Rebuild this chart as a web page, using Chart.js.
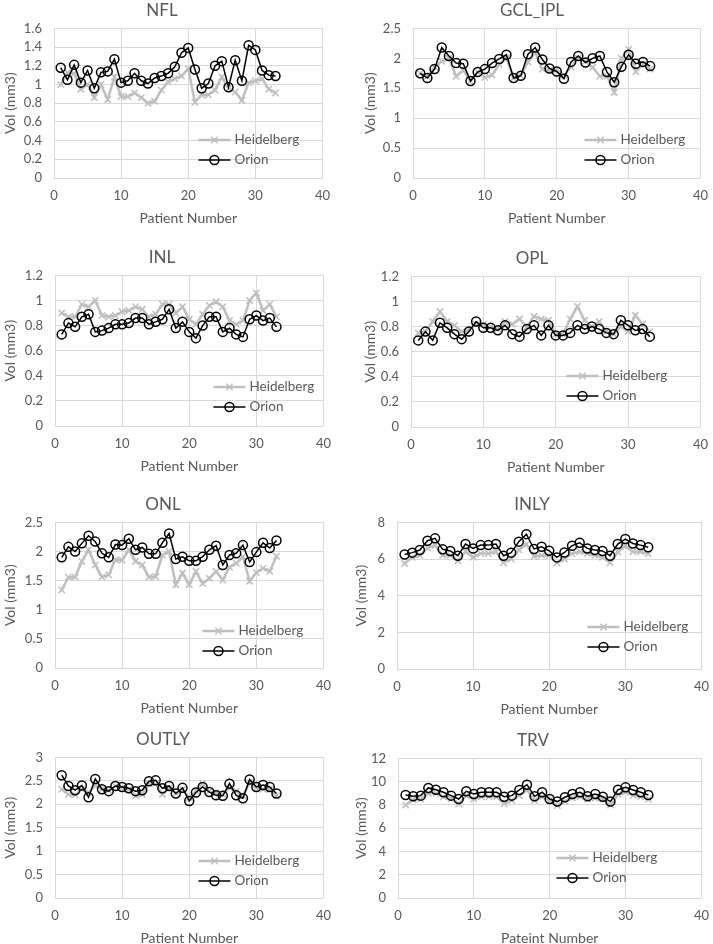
<!DOCTYPE html>
<html>
<head>
<meta charset="utf-8">
<script src="https://cdn.jsdelivr.net/npm/chart.js"></script>
<style>
  body { margin: 0; background: #fff; width: 713px; height: 944px; position: relative; overflow: hidden; }
  .panel { position: absolute; }
</style>
</head>
<body>
<script>
// patient numbers on the x axis
const patients = [1, 2, 3, 4, 5, 6, 7, 8, 9, 10, 11, 12, 13, 14, 15, 16, 17, 18, 19, 20, 21, 22, 23, 24, 25, 26, 27, 28, 29, 30, 31, 32, 33];

const nflHeid  = [1.00, 1.13, 1.12, 0.95, 1.00, 0.86, 1.00, 0.84, 1.08, 0.87, 0.87, 0.91, 0.86, 0.80, 0.82, 0.94, 1.03, 1.06, 1.09, 1.17, 0.81, 0.89, 0.89, 0.94, 1.08, 0.96, 0.92, 0.83, 1.02, 1.04, 1.06, 0.95, 0.91];
const nflOrion = [1.18, 1.05, 1.21, 1.02, 1.15, 0.96, 1.13, 1.14, 1.27, 1.02, 1.04, 1.12, 1.04, 1.01, 1.07, 1.09, 1.12, 1.19, 1.34, 1.39, 1.16, 0.96, 1.01, 1.20, 1.25, 0.97, 1.26, 1.04, 1.42, 1.37, 1.15, 1.10, 1.09];

const gclHeid  = [1.75, 1.70, 1.85, 1.95, 2.00, 1.70, 1.80, 1.62, 1.77, 1.68, 1.72, 1.90, 2.00, 1.67, 1.71, 1.94, 2.10, 1.82, 1.80, 1.80, 1.72, 1.85, 2.00, 1.95, 1.85, 1.70, 1.70, 1.43, 2.00, 2.15, 1.78, 1.90, 1.82];
const gclOrion = [1.75, 1.67, 1.82, 2.18, 2.04, 1.92, 1.91, 1.62, 1.77, 1.82, 1.92, 1.99, 2.06, 1.67, 1.71, 2.07, 2.18, 1.98, 1.83, 1.78, 1.66, 1.94, 2.04, 1.93, 2.00, 2.04, 1.77, 1.60, 1.86, 2.06, 1.91, 1.94, 1.87];

const inlHeid  = [0.90, 0.87, 0.87, 0.97, 0.95, 1.00, 0.88, 0.87, 0.88, 0.91, 0.92, 0.95, 0.93, 0.87, 0.89, 0.97, 0.97, 0.90, 0.95, 0.85, 0.81, 0.89, 0.96, 0.99, 0.95, 0.84, 0.81, 0.84, 1.00, 1.06, 0.92, 0.97, 0.87];
const inlOrion = [0.73, 0.82, 0.79, 0.87, 0.89, 0.75, 0.76, 0.78, 0.81, 0.81, 0.82, 0.86, 0.86, 0.81, 0.83, 0.85, 0.93, 0.78, 0.83, 0.75, 0.70, 0.80, 0.87, 0.87, 0.75, 0.78, 0.73, 0.71, 0.85, 0.88, 0.84, 0.86, 0.79];

const oplHeid  = [0.75, 0.76, 0.84, 0.92, 0.84, 0.81, 0.76, 0.78, 0.82, 0.82, 0.80, 0.78, 0.84, 0.82, 0.86, 0.80, 0.88, 0.86, 0.85, 0.74, 0.74, 0.86, 0.96, 0.85, 0.80, 0.84, 0.76, 0.74, 0.80, 0.76, 0.89, 0.82, 0.76];
const oplOrion = [0.69, 0.76, 0.69, 0.83, 0.79, 0.74, 0.70, 0.76, 0.84, 0.79, 0.79, 0.77, 0.81, 0.74, 0.72, 0.78, 0.81, 0.73, 0.81, 0.73, 0.73, 0.75, 0.81, 0.78, 0.80, 0.78, 0.75, 0.74, 0.85, 0.81, 0.77, 0.78, 0.72];

const onlHeid  = [1.34, 1.56, 1.56, 1.83, 2.03, 1.77, 1.56, 1.60, 1.86, 1.85, 2.03, 1.83, 1.77, 1.56, 1.57, 1.94, 2.00, 1.43, 1.63, 1.43, 1.66, 1.45, 1.54, 1.66, 1.51, 1.73, 1.80, 1.91, 1.49, 1.64, 1.71, 1.66, 1.92];
const onlOrion = [1.90, 2.08, 2.00, 2.14, 2.27, 2.17, 1.97, 1.90, 2.12, 2.11, 2.22, 2.03, 2.07, 1.96, 1.96, 2.15, 2.31, 1.87, 1.91, 1.84, 1.84, 1.91, 2.03, 2.10, 1.77, 1.94, 1.97, 2.11, 1.82, 1.99, 2.15, 2.06, 2.19];

const inlyHeid  = [5.76, 6.10, 6.20, 6.60, 6.75, 6.20, 6.20, 5.90, 6.40, 6.10, 6.30, 6.30, 6.40, 5.80, 6.00, 6.50, 6.80, 6.15, 6.20, 6.20, 5.80, 6.00, 6.30, 6.40, 6.30, 6.20, 6.10, 5.80, 6.40, 6.70, 6.40, 6.40, 6.30];
const inlyOrion = [6.25, 6.35, 6.49, 7.00, 7.13, 6.53, 6.44, 6.18, 6.82, 6.58, 6.76, 6.76, 6.82, 6.18, 6.35, 6.95, 7.36, 6.55, 6.67, 6.45, 6.09, 6.36, 6.73, 6.89, 6.58, 6.49, 6.44, 6.18, 6.82, 7.09, 6.85, 6.76, 6.64];

const outlyHeid  = [2.32, 2.21, 2.20, 2.32, 2.25, 2.40, 2.32, 2.30, 2.39, 2.35, 2.32, 2.18, 2.21, 2.44, 2.44, 2.21, 2.35, 2.23, 2.32, 2.14, 2.28, 2.44, 2.28, 2.25, 2.21, 2.35, 2.28, 2.18, 2.46, 2.35, 2.32, 2.32, 2.18];
const outlyOrion = [2.62, 2.39, 2.30, 2.40, 2.15, 2.54, 2.32, 2.28, 2.39, 2.37, 2.34, 2.28, 2.30, 2.49, 2.51, 2.34, 2.39, 2.23, 2.35, 2.07, 2.25, 2.37, 2.26, 2.19, 2.18, 2.44, 2.19, 2.13, 2.53, 2.37, 2.41, 2.37, 2.23];

const trvHeid  = [8.00, 8.45, 8.50, 9.00, 9.00, 8.70, 8.55, 8.10, 8.80, 8.50, 8.70, 8.70, 8.70, 8.10, 8.40, 8.80, 9.30, 8.40, 8.70, 8.40, 7.95, 8.30, 8.60, 8.70, 8.50, 8.60, 8.50, 8.00, 8.90, 9.10, 8.80, 8.70, 8.50];
const trvOrion = [8.86, 8.74, 8.80, 9.46, 9.31, 9.09, 8.80, 8.51, 9.17, 8.94, 9.09, 9.09, 9.09, 8.71, 8.80, 9.29, 9.74, 8.74, 9.09, 8.51, 8.29, 8.66, 8.94, 9.09, 8.74, 8.94, 8.71, 8.29, 9.31, 9.51, 9.29, 9.09, 8.86];

const seriesNames = ['Heidelberg', 'Orion'];

const FONT = 'Lato, "Open Sans", sans-serif';
const TEXT = '#595959';
const GRID = '#d9d9d9';
const HEID_COL = '#bfbfbf';
const PAD_L = 12;

// box = plot area [left, top, right, bottom] on the page, legend = [text offset from right, first row offset from bottom]
const panels = [
  { title: 'NFL',     heid: nflHeid,   orion: nflOrion,   yMax: 1.6, yStep: 0.2, xTitle: 'Patient Number', box: [54, 28, 326, 178],   titleX: 162, yTitleX: 10,  legend: [88, 38] },
  { title: 'GCL_IPL', heid: gclHeid,   orion: gclOrion,   yMax: 2.5, yStep: 0.5, xTitle: 'Patient Number', box: [413, 28, 704, 178],  titleX: 532, yTitleX: 370, legend: [80, 38] },
  { title: 'INL',     heid: inlHeid,   orion: inlOrion,   yMax: 1.2, yStep: 0.2, xTitle: 'Patient Number', box: [55, 275, 327, 426],  titleX: 162, yTitleX: 10,  legend: [74, 39] },
  { title: 'OPL',     heid: oplHeid,   orion: oplOrion,   yMax: 1.2, yStep: 0.2, xTitle: 'Patient Number', box: [411, 276, 704, 427], titleX: 532, yTitleX: 370, legend: [98, 51] },
  { title: 'ONL',     heid: onlHeid,   orion: onlOrion,   yMax: 2.5, yStep: 0.5, xTitle: 'Patient Number', box: [55, 522, 327, 668],  titleX: 163, yTitleX: 10,  legend: [85, 37] },
  { title: 'INLY',    heid: inlyHeid,  orion: inlyOrion,  yMax: 8,   yStep: 2,   xTitle: 'Patient Number', box: [397, 522, 705, 669], titleX: 532, yTitleX: 361, legend: [78, 42] },
  { title: 'OUTLY',   heid: outlyHeid, orion: outlyOrion, yMax: 3,   yStep: 0.5, xTitle: 'Patient Number', box: [55, 757, 327, 898],  titleX: 163, yTitleX: 10,  legend: [89, 37] },
  { title: 'TRV',     heid: trvHeid,   orion: trvOrion,   yMax: 12,  yStep: 2,   xTitle: 'Pateint Number', box: [398, 758, 705, 898], titleX: 533, yTitleX: 361, legend: [109, 40] }
];

// legend drawn inside the plot, bottom right, like the Excel one
const insideLegend = {
  id: 'insideLegend',
  afterDatasetsDraw(chart, args, opts) {
    const { ctx, chartArea: a } = chart;
    const tx = a.right - opts.dx;
    chart.data.datasets.forEach((ds, i) => {
      const y = a.bottom - opts.dy + i * 20;
      const mx = tx - 20;
      ctx.save();
      ctx.strokeStyle = ds.borderColor;
      ctx.lineWidth = ds.borderWidth;
      ctx.beginPath();
      ctx.moveTo(tx - 36, y);
      ctx.lineTo(tx - 4, y);
      ctx.stroke();
      ctx.lineWidth = ds.pointBorderWidth;
      ctx.strokeStyle = ds.pointBorderColor;
      const r = ds.pointRadius;
      ctx.beginPath();
      if (ds.pointStyle === 'circle') {
        ctx.arc(mx, y, r, 0, Math.PI * 2);
      } else {
        const d = r * Math.SQRT1_2;
        ctx.moveTo(mx - d, y - d); ctx.lineTo(mx + d, y + d);
        ctx.moveTo(mx - d, y + d); ctx.lineTo(mx + d, y - d);
      }
      ctx.stroke();
      ctx.fillStyle = TEXT;
      ctx.font = '13.5px ' + FONT;
      ctx.textBaseline = 'middle';
      ctx.textAlign = 'left';
      ctx.fillText(ds.label, tx, y);
      ctx.restore();
    });
  }
};

// Excel style numbers: 1 not 1.0, 0.8 stays 0.8
const plainNum = (v) => String(Number(v.toFixed(3)));

function makePanel(p) {
  const [pl, pt, pr, pb] = p.box;
  const axisLeft = Math.round(2 * p.titleX - pr);
  const left = axisLeft - PAD_L;
  const top = Math.round(pt - 28.2);
  const width = pr - left + 14;
  const height = Math.round(pb + 50 - top);
  const yAxisW = pl - axisLeft;

  const div = document.createElement('div');
  div.className = 'panel';
  div.style.left = left + 'px';
  div.style.top = top + 'px';
  div.style.width = width + 'px';
  div.style.height = height + 'px';
  const cv = document.createElement('canvas');
  cv.width = width;
  cv.height = height;
  div.appendChild(cv);
  document.body.appendChild(div);

  new Chart(cv, {
    type: 'line',
    data: {
      datasets: [
        {
          label: seriesNames[0],
          data: patients.map((x, i) => ({ x: x, y: p.heid[i] })),
          borderColor: HEID_COL,
          backgroundColor: HEID_COL,
          borderWidth: 2.5,
          pointStyle: 'crossRot',
          pointRadius: 4.5,
          pointBorderWidth: 1.5,
          pointBorderColor: HEID_COL,
          tension: 0,
          order: 1
        },
        {
          label: seriesNames[1],
          data: patients.map((x, i) => ({ x: x, y: p.orion[i] })),
          borderColor: '#000000',
          backgroundColor: 'rgba(0,0,0,0)',
          borderWidth: 1.5,
          pointStyle: 'circle',
          pointRadius: 4.5,
          pointBorderWidth: 1.5,
          pointBorderColor: '#000000',
          pointBackgroundColor: 'rgba(0,0,0,0)',
          tension: 0,
          order: 0
        }
      ]
    },
    options: {
      responsive: false,
      animation: false,
      layout: { padding: { left: PAD_L, top: 0, right: 14, bottom: 0 } },
      plugins: {
        legend: { display: false },
        tooltip: { enabled: false },
        title: {
          display: true,
          text: p.title,
          color: TEXT,
          font: { family: FONT, size: 17, weight: 'normal' },
          padding: { top: 0, bottom: 8 }
        },
        insideLegend: { dx: p.legend[0], dy: p.legend[1] }
      },
      scales: {
        x: {
          type: 'linear',
          min: 0,
          max: 40,
          ticks: { stepSize: 10, color: TEXT, font: { family: FONT, size: 13 }, padding: 10, maxRotation: 0, callback: plainNum },
          grid: { color: GRID, drawTicks: false },
          border: { display: false },
          title: { display: true, text: p.xTitle, color: TEXT, font: { family: FONT, size: 14 }, padding: { top: 0, bottom: 1.6 } },
          afterFit: (s) => { s.height = 50; }
        },
        y: {
          min: 0,
          max: p.yMax,
          ticks: { stepSize: p.yStep, color: TEXT, font: { family: FONT, size: 13 }, padding: 12, callback: plainNum },
          grid: { color: GRID, drawTicks: false },
          border: { display: false },
          title: { display: true, text: 'Vol (mm3)', color: TEXT, font: { family: FONT, size: 14 }, padding: { top: p.yTitleX - axisLeft - 8.4, bottom: 0 } },
          afterFit: (s) => { s.width = yAxisW; }
        }
      }
    },
    plugins: [insideLegend]
  });
}

panels.forEach(makePanel);
</script>
</body>
</html>
